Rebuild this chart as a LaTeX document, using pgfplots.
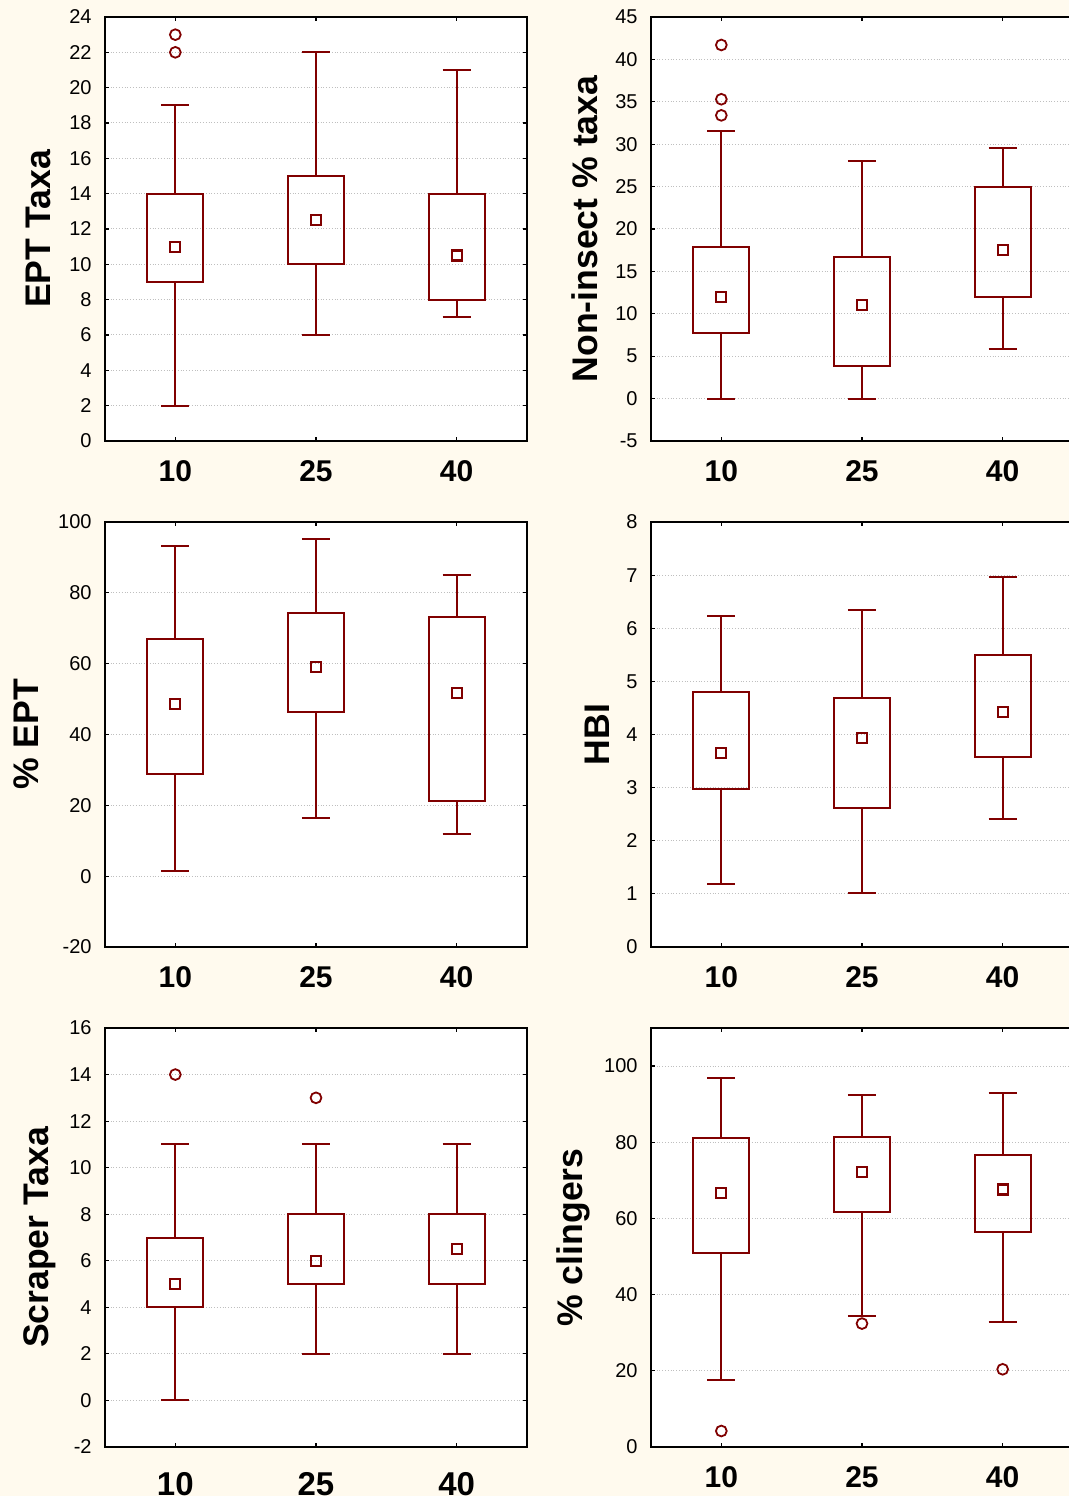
\documentclass[border=0pt]{standalone}
\usepackage{pgfplots}
\pgfplotsset{compat=1.18}
\usepgfplotslibrary{statistics}
\usepackage{fontspec}
\setmainfont{Liberation Sans}
\definecolor{bg}{RGB}{255,250,238}
\definecolor{dr}{RGB}{128,0,0}
\pgfplotsset{
  panel/.style={
    scale only axis, width=211pt, height=212pt, anchor=south west,
    xmin=-0.5, xmax=2.5, xtick={0,1,2}, xticklabels={10,25,40},
    axis background/.style={fill=white},
    axis line style={line width=1pt, black},
    tick align=inside, major tick length=2pt,
    tick style={black, line width=0.6pt},
    ymajorgrids, major grid style={black!25, densely dotted, line width=0.5pt},
    /pgf/number format/assume math mode=true,
    yticklabel style={font=\fontsize{10}{11}\selectfont, xshift=-3.2pt},
    xticklabel style={font=\fontsize{15}{16}\selectfont\bfseries, yshift=-6pt},
    ylabel style={font=\fontsize{17.8}{18}\selectfont\bfseries},
    boxplot/draw direction=y,
    boxplot/box extend=0.4,
    boxplot/whisker extend=0.2,
    boxplot/draw/median/.code={},
  },
  bx/.style={dr, line width=1pt, solid},
  mn/.style={only marks, mark=square, mark size=2.5pt, dr, mark options={line width=1.1pt, fill=white, solid}},
  ol/.style={only marks, mark=o, mark size=2.7pt, dr, mark options={line width=0.9pt, solid}},
}
\begin{document}
\begin{tikzpicture}
\path[use as bounding box] (0,0) rectangle (534.5pt,748pt);
\fill[bg] (0,0) rectangle (534.5pt,748pt);

% Panel 1: EPT Taxa
\begin{axis}[panel, at={(52.5pt,527.5pt)}, height=212pt,
  ymin=0, ymax=24, ytick distance=2, ylabel={EPT Taxa}, ylabel shift=2.5pt]
\addplot[bx, boxplot prepared={draw position=0, lower whisker=2, lower quartile=9, median=11, upper quartile=14, upper whisker=19}] coordinates {};
\addplot[bx, boxplot prepared={draw position=1, lower whisker=6, lower quartile=10, median=12.5, upper quartile=15, upper whisker=22}] coordinates {};
\addplot[bx, boxplot prepared={draw position=2, lower whisker=7, lower quartile=8, median=10.5, upper quartile=14, upper whisker=21}] coordinates {};
\addplot[mn] coordinates {(0,11) (1,12.5) (2,10.5)};
\addplot[ol] coordinates {(0,22) (0,23)};
\end{axis}

% Panel 2: Non-insect % taxa
\begin{axis}[panel, at={(325.5pt,527.5pt)}, height=212pt,
  ymin=-5, ymax=45, ytick distance=5, ylabel={Non-insect \% taxa}, ylabel shift=2pt]
\addplot[bx, boxplot prepared={draw position=0, lower whisker=0, lower quartile=7.7, median=12, upper quartile=17.9, upper whisker=31.6}] coordinates {};
\addplot[bx, boxplot prepared={draw position=1, lower whisker=0, lower quartile=3.9, median=11, upper quartile=16.7, upper whisker=28.0}] coordinates {};
\addplot[bx, boxplot prepared={draw position=2, lower whisker=5.9, lower quartile=12.0, median=17.5, upper quartile=25.0, upper whisker=29.6}] coordinates {};
\addplot[mn] coordinates {(0,12.0) (1,11.0) (2,17.5)};
\addplot[ol] coordinates {(0,33.4) (0,35.3) (0,41.7)};
\end{axis}

% Panel 3: % EPT
\begin{axis}[panel, at={(52.5pt,274.5pt)}, height=212.5pt,
  ymin=-20, ymax=100, ytick distance=20, ylabel={\% EPT}, ylabel shift=3pt]
\addplot[bx, boxplot prepared={draw position=0, lower whisker=1.5, lower quartile=28.9, median=48.6, upper quartile=67.0, upper whisker=93.3}] coordinates {};
\addplot[bx, boxplot prepared={draw position=1, lower whisker=16.5, lower quartile=46.4, median=59.1, upper quartile=74.4, upper whisker=95.2}] coordinates {};
\addplot[bx, boxplot prepared={draw position=2, lower whisker=12.0, lower quartile=21.2, median=51.7, upper quartile=73.2, upper whisker=85.1}] coordinates {};
\addplot[mn] coordinates {(0,48.6) (1,59.1) (2,51.7)};
\end{axis}

% Panel 4: HBI
\begin{axis}[panel, at={(325.5pt,274.5pt)}, height=212.5pt,
  ymin=0, ymax=8, ytick distance=1, ylabel={HBI}, ylabel shift=1.5pt]
\addplot[bx, boxplot prepared={draw position=0, lower whisker=1.19, lower quartile=2.98, median=3.65, upper quartile=4.80, upper whisker=6.23}] coordinates {};
\addplot[bx, boxplot prepared={draw position=1, lower whisker=1.02, lower quartile=2.62, median=3.94, upper quartile=4.69, upper whisker=6.35}] coordinates {};
\addplot[bx, boxplot prepared={draw position=2, lower whisker=2.41, lower quartile=3.58, median=4.43, upper quartile=5.50, upper whisker=6.97}] coordinates {};
\addplot[mn] coordinates {(0,3.65) (1,3.94) (2,4.43)};
\end{axis}

% Panel 5: Scraper Taxa
\begin{axis}[panel, at={(52.5pt,24.5pt)}, height=209.5pt,
  ymin=-2, ymax=16, ytick distance=2, ylabel={Scraper Taxa},
  xticklabel style={font=\fontsize{16.5}{17}\selectfont\bfseries, yshift=-3pt}]
\addplot[bx, boxplot prepared={draw position=0, lower whisker=0, lower quartile=4, median=5, upper quartile=7, upper whisker=11}] coordinates {};
\addplot[bx, boxplot prepared={draw position=1, lower whisker=2, lower quartile=5, median=6, upper quartile=8, upper whisker=11}] coordinates {};
\addplot[bx, boxplot prepared={draw position=2, lower whisker=2, lower quartile=5, median=6.5, upper quartile=8, upper whisker=11}] coordinates {};
\addplot[mn] coordinates {(0,5) (1,6) (2,6.5)};
\addplot[ol] coordinates {(0,14) (1,13)};
\end{axis}

% Panel 6: % clingers
\begin{axis}[panel, at={(325.5pt,24.5pt)}, height=209.5pt,
  ymin=0, ymax=110, ytick={0,20,40,60,80,100}, ylabel={\% clingers}]
\addplot[bx, boxplot prepared={draw position=0, lower whisker=17.5, lower quartile=50.9, median=66.7, upper quartile=81.0, upper whisker=96.8}] coordinates {};
\addplot[bx, boxplot prepared={draw position=1, lower whisker=34.4, lower quartile=61.8, median=72.2, upper quartile=81.4, upper whisker=92.3}] coordinates {};
\addplot[bx, boxplot prepared={draw position=2, lower whisker=32.7, lower quartile=56.4, median=67.6, upper quartile=76.6, upper whisker=92.9}] coordinates {};
\addplot[mn] coordinates {(0,66.7) (1,72.2) (2,67.6)};
\addplot[ol] coordinates {(0,4.2) (1,32.4) (2,20.4)};
\end{axis}
\end{tikzpicture}
\end{document}
